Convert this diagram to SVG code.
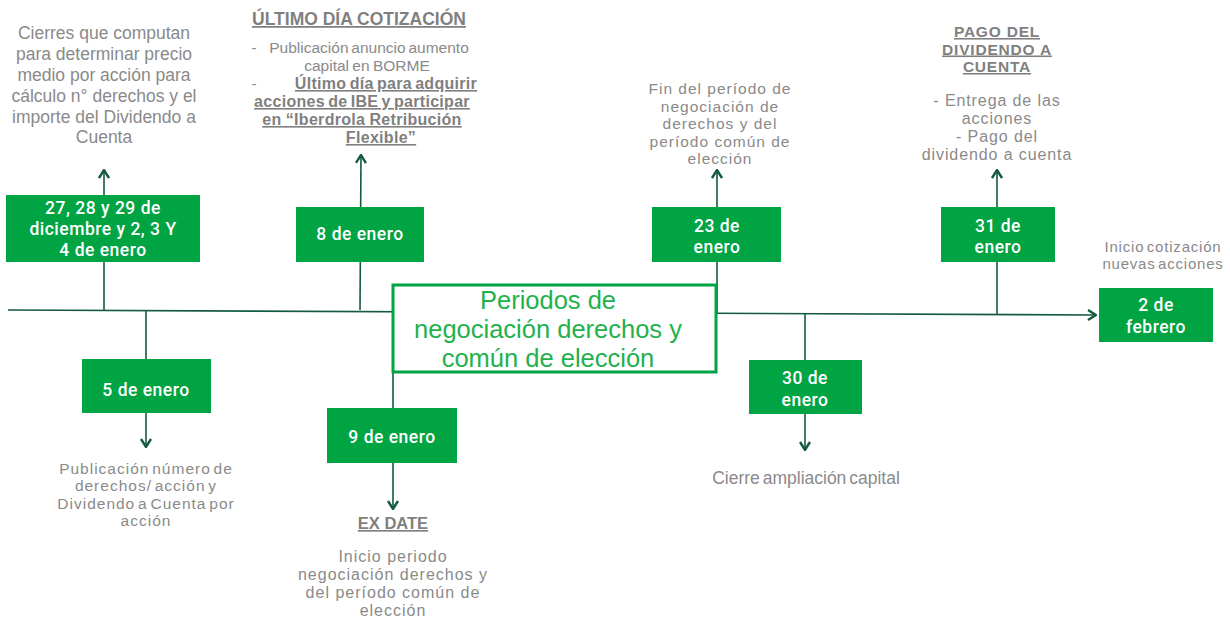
<svg xmlns="http://www.w3.org/2000/svg" width="1230" height="620" viewBox="0 0 1230 620">
<style>
.ln{stroke:#145a3e;stroke-width:1.6;fill:none}
.box{fill:#00a443}
.bt{font-family:Roboto,"Liberation Sans",sans-serif;font-weight:500;font-size:17.5px;letter-spacing:0.5px;fill:#ffffff;text-anchor:middle}
.gt{font-family:"Liberation Sans",Arial,sans-serif;font-size:15.5px;fill:#8a8a8a;text-anchor:middle}
.gb{font-family:"Liberation Sans",Arial,sans-serif;font-size:16px;font-weight:700;fill:#7f7f7f;text-anchor:middle;text-decoration:underline}
.ct{font-family:"Liberation Sans",Arial,sans-serif;font-size:25.5px;fill:#22b14c;text-anchor:middle}
</style>
<defs>
<marker id="arr" viewBox="0 0 10 12" refX="9" refY="6" markerWidth="10" markerHeight="12" markerUnits="userSpaceOnUse" orient="auto">
<path d="M1,1 L9,6 L1,11" fill="none" stroke="#145a3e" stroke-width="2.4"/>
</marker>
</defs>
<rect width="1230" height="620" fill="#ffffff"/>
<g id="connectors">
<path class="ln" d="M8,310 L1096,315" marker-end="url(#arr)"/>
<path class="ln" d="M104,310 L104,170" marker-end="url(#arr)"/>
<path class="ln" d="M360,310 L361,155" marker-end="url(#arr)"/>
<path class="ln" d="M146,310 L146,447" marker-end="url(#arr)"/>
<path class="ln" d="M393,372 L393,509" marker-end="url(#arr)"/>
<path class="ln" d="M717,313 L717,170" marker-end="url(#arr)"/>
<path class="ln" d="M805,314 L805,450" marker-end="url(#arr)"/>
<path class="ln" d="M997,315 L997,170" marker-end="url(#arr)"/>
</g>
<g id="n-dic">
<rect class="box" x="6" y="195" width="194" height="67"/>
<text class="bt"><tspan x="103" y="214">27, 28 y 29 de</tspan><tspan x="103" y="235">diciembre y 2, 3 Y</tspan><tspan x="103" y="256">4 de enero</tspan></text>
</g>
<g id="n-dic-text">
<text class="gt" style="font-size:17.5px"><tspan x="104" y="39">Cierres que computan</tspan><tspan x="104" y="60">para determinar precio</tspan><tspan x="104" y="81">medio por acción para</tspan><tspan x="104" y="102">cálculo n° derechos y el</tspan><tspan x="104" y="123">importe del Dividendo a</tspan><tspan x="104" y="143">Cuenta</tspan></text>
</g>
<g id="n-8ene">
<rect class="box" x="296" y="207" width="128" height="55"/>
<text class="bt" x="360" y="240">8 de enero</text>
</g>
<g id="n-8ene-text">
<text class="gb" style="font-size:17.5px" x="359" y="25">ÚLTIMO DÍA COTIZACIÓN</text>
<text class="gt" x="254" y="53">-</text>
<text class="gt" x="369" y="53" word-spacing="-1.5">Publicación anuncio aumento</text>
<text class="gt" x="367" y="70.5" word-spacing="-1">capital en BORME</text>
<text class="gt" x="254" y="89">-</text>
<text class="gb" x="386" y="89" word-spacing="-1.5" letter-spacing="0.3">Último día para adquirir</text>
<text class="gb" x="362" y="107" word-spacing="-1.5" letter-spacing="0.3">acciones de IBE y participar</text>
<text class="gb" x="362" y="125" word-spacing="-0.5" letter-spacing="0.3">en “Iberdrola Retribución</text>
<text class="gb" x="381" y="143" letter-spacing="0.3">Flexible”</text>
</g>
<g id="n-5ene">
<rect class="box" x="82" y="359" width="129" height="54"/>
<text class="bt" x="146" y="396">5 de enero</text>
<text class="gt" letter-spacing="1" word-spacing="-2.5"><tspan x="146" y="473.5">Publicación número de</tspan><tspan x="146" y="491">derechos/ acción y</tspan><tspan x="146" y="508.5">Dividendo a Cuenta por</tspan><tspan x="146" y="526">acción</tspan></text>
</g>
<g id="n-center">
<rect x="393" y="285" width="323" height="87" fill="#ffffff" stroke="#00a443" stroke-width="3"/>
<text class="ct"><tspan x="548" y="309">Periodos de</tspan><tspan x="548" y="338">negociación derechos y</tspan><tspan x="548" y="367">común de elección</tspan></text>
</g>
<g id="n-9ene">
<rect class="box" x="327" y="408" width="130" height="55"/>
<text class="bt" x="392" y="443">9 de enero</text>
<text class="gb" style="font-size:16.5px" x="393" y="529">EX DATE</text>
<text class="gt" style="font-size:16px" letter-spacing="1"><tspan x="393" y="562">Inicio periodo</tspan><tspan x="393" y="580">negociación derechos y</tspan><tspan x="393" y="598">del período común de</tspan><tspan x="393" y="616">elección</tspan></text>
</g>
<g id="n-23ene">
<rect class="box" x="652" y="207" width="129" height="55"/>
<text class="bt"><tspan x="717" y="232">23 de</tspan><tspan x="717" y="253">enero</tspan></text>
<text class="gt" letter-spacing="1"><tspan x="720" y="94">Fin del período de</tspan><tspan x="720" y="111.5">negociación de</tspan><tspan x="720" y="129">derechos y del</tspan><tspan x="720" y="146.5">período común de</tspan><tspan x="720" y="164">elección</tspan></text>
</g>
<g id="n-30ene">
<rect class="box" x="749" y="360" width="113" height="54"/>
<text class="bt"><tspan x="805" y="384">30 de</tspan><tspan x="805" y="406">enero</tspan></text>
<text class="gt" style="font-size:17.5px" x="806" y="484" word-spacing="-2">Cierre ampliación capital</text>
</g>
<g id="n-31ene">
<rect class="box" x="941" y="207" width="114" height="55"/>
<text class="bt"><tspan x="998" y="232">31 de</tspan><tspan x="998" y="253">enero</tspan></text>
<text class="gb" style="font-size:15.5px" letter-spacing="0.8"><tspan x="997" y="37">PAGO DEL</tspan><tspan x="997" y="54.5">DIVIDENDO A</tspan><tspan x="997" y="72">CUENTA</tspan></text>
<text class="gt" style="font-size:16px" letter-spacing="0.9"><tspan x="997" y="106">- Entrega de las</tspan><tspan x="997" y="124">acciones</tspan><tspan x="997" y="142">- Pago del</tspan><tspan x="997" y="160">dividendo a cuenta</tspan></text>
</g>
<g id="n-2feb">
<rect class="box" x="1099" y="288" width="114" height="54"/>
<text class="bt"><tspan x="1156" y="311">2 de</tspan><tspan x="1156" y="333">febrero</tspan></text>
<text class="gt" style="font-size:15px" letter-spacing="0.8" word-spacing="-2.5"><tspan x="1163" y="252">Inicio cotización</tspan><tspan x="1163" y="269">nuevas acciones</tspan></text>
</g>
</svg>
